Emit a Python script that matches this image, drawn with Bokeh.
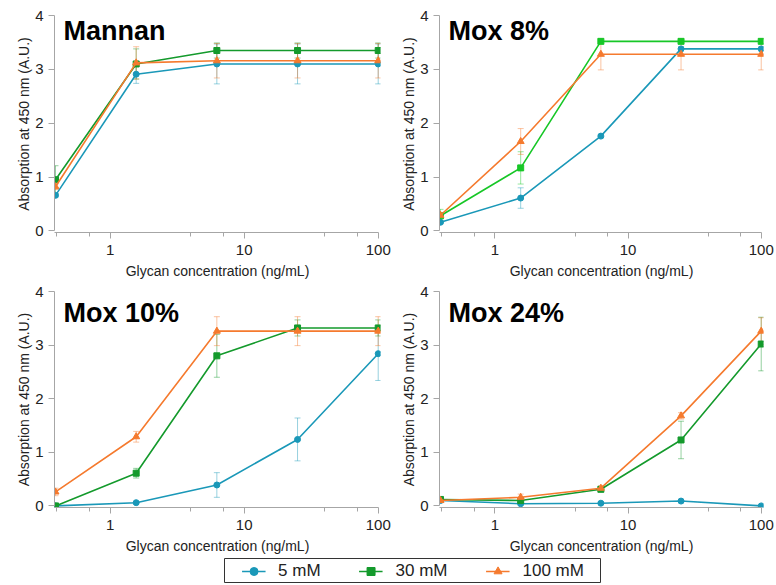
from bokeh.plotting import figure
from bokeh.models import (ColumnDataSource, Whisker, TeeHead, Label, FixedTicker,
                          BasicTickFormatter, Range1d, Legend, LegendItem, Spacer)
from bokeh.layouts import column, row
from bokeh.embed import file_html
from bokeh.resources import INLINE

FONT = "Liberation Sans"

# ---------------- data ----------------
conc = [0.390625, 1.5625, 6.25, 25, 100]
x_ticks = [1, 10, 100]
x_minor_ticks = [0.4, 0.7, 4, 7, 40, 70]
y_ticks = [0, 1, 2, 3, 4]
series_names = ["5 mM", "30 mM", "100 mM"]
panel_titles = ["Mannan", "Mox 8%", "Mox 10%", "Mox 24%"]

mannan_5 = [0.66, 2.91, 3.10, 3.10, 3.10]
mannan_5_err = [0.03, 0.17, 0.37, 0.37, 0.37]
mannan_30 = [0.95, 3.10, 3.35, 3.35, 3.35]
mannan_30_err = [0.26, 0.28, 0.14, 0.14, 0.14]
mannan_100 = [0.82, 3.12, 3.16, 3.16, 3.16]
mannan_100_err = [0.05, 0.30, 0.32, 0.32, 0.32]

mox8_5 = [0.16, 0.61, 1.76, 3.38, 3.38]
mox8_5_err = [0.02, 0.19, 0.03, 0.04, 0.04]
mox8_30 = [0.28, 1.17, 3.52, 3.52, 3.52]
mox8_30_err = [0.12, 0.30, 0.04, 0.04, 0.04]
mox8_100 = [0.29, 1.66, 3.28, 3.28, 3.28]
mox8_100_err = [0.03, 0.24, 0.29, 0.29, 0.29]

mox10_5 = [0.0, 0.06, 0.39, 1.24, 2.84]
mox10_5_err = [0.01, 0.02, 0.23, 0.40, 0.50]
mox10_30 = [0.0, 0.61, 2.80, 3.32, 3.32]
mox10_30_err = [0.01, 0.09, 0.40, 0.15, 0.15]
mox10_100 = [0.26, 1.29, 3.26, 3.26, 3.26]
mox10_100_err = [0.07, 0.10, 0.27, 0.27, 0.27]

mox24_5 = [0.10, 0.04, 0.05, 0.09, 0.0]
mox24_5_err = [0.02, 0.02, 0.02, 0.03, 0.0]
mox24_30 = [0.12, 0.10, 0.31, 1.23, 3.02]
mox24_30_err = [0.02, 0.03, 0.05, 0.35, 0.50]
mox24_100 = [0.10, 0.16, 0.33, 1.68, 3.26]
mox24_100_err = [0.03, 0.06, 0.04, 0.06, 0.25]

# ---------------- styles ----------------
TEAL = "#1a98b8"
GREEN = "#149a2c"
GREEN_BRIGHT = "#17c727"
ORANGE = "#f57a2e"
AXIS_GREY = "#a6a6a6"
TEXT = "#222222"

X_START, X_END = 0.384, 104
Y_START, Y_END = -0.03, 4.0


def make_panel(title, series, errs, colors, width, height, left, right, top,
               title_dy):
    p = figure(width=width, height=height, x_axis_type="log",
               x_range=Range1d(X_START, X_END), y_range=Range1d(Y_START, Y_END),
               output_backend="svg", toolbar_location=None,
               min_border_left=left, min_border_right=right,
               min_border_top=top, min_border_bottom=50)
    p.grid.visible = False
    p.outline_line_color = None
    p.background_fill_color = "white"
    p.border_fill_color = "white"

    p.xaxis.ticker = FixedTicker(ticks=x_ticks, minor_ticks=x_minor_ticks)
    p.xaxis.formatter = BasicTickFormatter()
    p.xaxis.bounds = (X_START, 100)
    p.yaxis.ticker = FixedTicker(ticks=y_ticks, minor_ticks=[])
    p.yaxis.bounds = (0, 4)
    p.xaxis.axis_label = "Glycan concentration (ng/mL)"
    p.yaxis.axis_label = "Absorption at 450 nm (A.U.)"
    for ax in (p.xaxis, p.yaxis):
        ax.axis_line_color = AXIS_GREY
        ax.major_tick_line_color = AXIS_GREY
        ax.minor_tick_line_color = AXIS_GREY
        ax.major_tick_out = 6
        ax.major_tick_in = 0
        ax.minor_tick_out = 4
        ax.minor_tick_in = 0
        ax.major_label_text_font = FONT
        ax.major_label_text_font_size = "15px"
        ax.major_label_text_color = TEXT
        ax.axis_label_text_font = FONT
        ax.axis_label_text_font_size = "14px"
        ax.axis_label_text_font_style = "normal"
        ax.axis_label_text_color = TEXT
    p.xaxis.major_label_standoff = 6
    p.xaxis.axis_label_standoff = 5
    p.yaxis.major_label_standoff = 5
    p.yaxis.axis_label_standoff = 0

    markers = ["circle", "square", "triangle"]
    sizes = [6, 6, 7]
    for ys, es, col, mk, sz in zip(series, errs, colors, markers, sizes):
        src = ColumnDataSource(dict(
            x=conc, y=ys,
            upper=[a + b for a, b in zip(ys, es)],
            lower=[a - b for a, b in zip(ys, es)]))
        w = Whisker(base="x", upper="upper", lower="lower", source=src,
                    line_color=col, line_alpha=0.45, line_width=1,
                    upper_head=TeeHead(size=6, line_color=col, line_alpha=0.45),
                    lower_head=TeeHead(size=6, line_color=col, line_alpha=0.45))
        p.add_layout(w)
        p.line("x", "y", source=src, line_color=col, line_width=1.6)
        p.scatter("x", "y", source=src, marker=mk, size=sz,
                  fill_color=col, line_color=col)

    p.add_layout(Label(x=X_START, y=4.0, x_offset=9, y_offset=title_dy,
                       text=title, text_font=FONT, text_font_size="27px",
                       text_font_style="bold", text_color="black",
                       text_baseline="top", text_align="left"))
    return p


# left column: spacer 8 + figure 384 (border 46, frame 326, right 12)
# right column: figure 384 (border 47, frame 324, right 13)
p1 = make_panel(panel_titles[0], [mannan_5, mannan_30, mannan_100],
                [mannan_5_err, mannan_30_err, mannan_100_err],
                [TEAL, GREEN, ORANGE], 384, 282, 46, 12, 15, 0)
p2 = make_panel(panel_titles[1], [mox8_5, mox8_30, mox8_100],
                [mox8_5_err, mox8_30_err, mox8_100_err],
                [TEAL, GREEN_BRIGHT, ORANGE], 384, 282, 47, 13, 15, 0)
p3 = make_panel(panel_titles[2], [mox10_5, mox10_30, mox10_100],
                [mox10_5_err, mox10_30_err, mox10_100_err],
                [TEAL, GREEN, ORANGE], 384, 275, 46, 12, 9, -6)
p4 = make_panel(panel_titles[3], [mox24_5, mox24_30, mox24_100],
                [mox24_5_err, mox24_30_err, mox24_100_err],
                [TEAL, GREEN, ORANGE], 384, 275, 47, 13, 9, -6)

# ---------------- legend ----------------
leg = figure(width=377, height=25, x_range=Range1d(1000, 1001),
             y_range=Range1d(1000, 1001),
             output_backend="svg", toolbar_location=None,
             x_axis_location=None, y_axis_location=None, min_border=0)
leg.grid.visible = False
leg.outline_line_color = "#333333"
leg.outline_line_width = 1
items = []
for name, col, mk, ys in zip(series_names, [TEAL, GREEN, ORANGE],
                             ["circle", "square", "triangle"],
                             [mannan_5, mannan_30, mannan_100]):
    # proxy renderers (outside the visible range) only used for legend glyphs
    r1 = leg.line(x=conc, y=ys, line_color=col, line_width=1.6)
    r2 = leg.scatter(x=conc, y=ys, marker=mk, size=5, fill_color=col,
                     line_color=col)
    items.append(LegendItem(label=name, renderers=[r1, r2]))
legend = Legend(items=items, orientation="horizontal", location="center",
                border_line_alpha=0, background_fill_alpha=0, padding=0,
                margin=0, glyph_width=24, glyph_height=20, label_height=20,
                label_standoff=13, spacing=38, label_text_font=FONT,
                label_text_font_size="17px", label_text_color=TEXT)
leg.add_layout(legend)

layout = column(row(Spacer(width=8, height=282), p1, p2),
                row(Spacer(width=8, height=275), p3, p4),
                Spacer(width=10, height=1),
                row(Spacer(width=224, height=25), leg))

open("out.html", "w").write(file_html(layout, INLINE))
